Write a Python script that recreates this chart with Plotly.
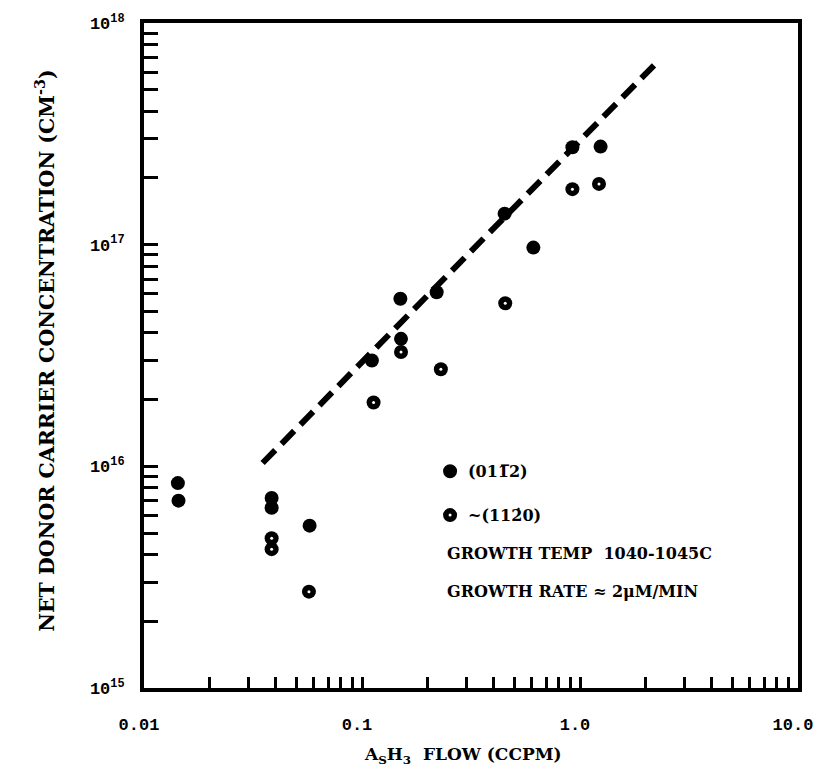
import plotly.graph_objects as go

# ---- data ----
filled_flow = [0.0143, 0.0144, 0.0385, 0.0385, 0.0575, 0.111, 0.150, 0.151, 0.220, 0.451, 0.611, 0.923, 1.243]
filled_conc = [8.4e15, 7.0e15, 7.2e15, 6.5e15, 5.4e15, 3.0e16, 5.7e16, 3.76e16, 6.1e16, 1.38e17, 9.7e16, 2.75e17, 2.77e17]

open_flow = [0.0385, 0.0385, 0.0571, 0.113, 0.151, 0.230, 0.454, 0.923, 1.222]
open_conc = [4.74e15, 4.23e15, 2.72e15, 1.94e16, 3.28e16, 2.74e16, 5.44e16, 1.78e17, 1.88e17]

fit_flow = [0.035, 2.30]
fit_conc = [1.035e16, 6.78e17]

x_tickvals = [m * 10 ** e for e in (-2, -1, 0) for m in range(1, 10)] + [10]
x_ticktext = ["0.01" if v == 0.01 else "0.1" if v == 0.1 else "1.0" if v == 1 else "10.0" if v == 10 else "" for v in x_tickvals]

y_tickvals = [m * 10.0 ** e for e in (15, 16, 17) for m in range(1, 10)] + [1e18]
y_ticktext = []
for v in y_tickvals:
    mant, exp = f"{v:.0e}".split("e")
    y_ticktext.append(f"10<sup>{int(exp)}</sup>" if mant == "1" else "")

legend_labels = ["(01\u0031\u03052)", "~(11\u0032\u03070)"]
notes = ["GROWTH TEMP  1040-1045C", "GROWTH RATE \u2248 2\u03bcM/MIN"]
y_title = "NET DONOR CARRIER CONCENTRATION (CM<sup>-3</sup>)"
x_title = "A<sub>S</sub>H<sub>3</sub>  FLOW (CCPM)"

fig = go.Figure()

fig.add_trace(go.Scatter(x=fit_flow, y=fit_conc, mode="lines",
                         line=dict(color="black", width=6, dash="18px,9px"),
                         showlegend=False, hoverinfo="skip"))
fig.add_trace(go.Scatter(x=filled_flow, y=filled_conc, mode="markers",
                         marker=dict(color="black", size=14, line=dict(width=0)),
                         showlegend=False))
fig.add_trace(go.Scatter(x=open_flow, y=open_conc, mode="markers",
                         marker=dict(color="black", size=14, line=dict(width=0)),
                         showlegend=False))
fig.add_trace(go.Scatter(x=open_flow, y=open_conc, mode="markers",
                         marker=dict(color="white", size=3, line=dict(width=0)),
                         showlegend=False, hoverinfo="skip"))

tickfont = dict(family="Liberation Mono", size=17, color="black", weight="bold")
notefont = dict(family="DejaVu Serif", size=16, color="black", weight="bold")
ytfont = dict(family="DejaVu Serif", size=20.5, color="black", weight="bold")
xtfont = dict(family="DejaVu Serif", size=17, color="black", weight="bold")

fig.update_xaxes(type="log", range=[-2, 1], tickvals=x_tickvals, ticktext=x_ticktext,
                 ticks="inside", ticklen=11, tickwidth=3, tickcolor="black",
                 showline=True, linewidth=4, linecolor="black", mirror=True,
                 showgrid=False, zeroline=False, tickfont=tickfont,
                 ticklabelstandoff=18, ticklabelshift=-5)
fig.update_yaxes(type="log", range=[15, 18], tickvals=y_tickvals, ticktext=y_ticktext,
                 ticks="inside", ticklen=14, tickwidth=3, tickcolor="black",
                 showline=True, linewidth=4, linecolor="black", mirror=True,
                 showgrid=False, zeroline=False, tickfont=tickfont, ticklabelstandoff=12)

# legend symbols
lx = 0.468
for yy, hollow in ((0.326, False), (0.260, True)):
    fig.add_shape(type="circle", xref="paper", yref="paper", xsizemode="pixel", ysizemode="pixel",
                  xanchor=lx, yanchor=yy, x0=-7, x1=7, y0=-7, y1=7,
                  fillcolor="black", line=dict(width=0))
    if hollow:
        fig.add_shape(type="circle", xref="paper", yref="paper", xsizemode="pixel", ysizemode="pixel",
                      xanchor=lx, yanchor=yy, x0=-1.5, x1=1.5, y0=-1.5, y1=1.5,
                      fillcolor="white", line=dict(width=0))

fig.add_annotation(xref="paper", yref="paper", x=0.492, y=0.326, text=legend_labels[0],
                   showarrow=False, xanchor="left", yanchor="middle", font=notefont)
fig.add_annotation(xref="paper", yref="paper", x=0.492, y=0.260, text=legend_labels[1],
                   showarrow=False, xanchor="left", yanchor="middle", font=notefont)
fig.add_annotation(xref="paper", yref="paper", x=0.460, y=0.2018, text=notes[0],
                   showarrow=False, xanchor="left", yanchor="middle", font=notefont)
fig.add_annotation(xref="paper", yref="paper", x=0.460, y=0.145, text=notes[1],
                   showarrow=False, xanchor="left", yanchor="middle", font=notefont)

# axis titles
fig.add_annotation(xref="paper", yref="paper", x=-0.150, y=0.507, textangle=-90,
                   text=y_title, showarrow=False, xanchor="center", yanchor="middle", font=ytfont)
fig.add_annotation(xref="paper", yref="paper", x=0.488, y=-0.101,
                   text=x_title, showarrow=False, xanchor="center", yanchor="middle", font=xtfont)

fig.update_layout(width=825, height=771, margin=dict(l=144, r=23, t=19, b=83),
                  plot_bgcolor="white", paper_bgcolor="white")

fig.write_html("out.html", config={"displayModeBar": False},
               post_script="document.body.style.margin='0';")
